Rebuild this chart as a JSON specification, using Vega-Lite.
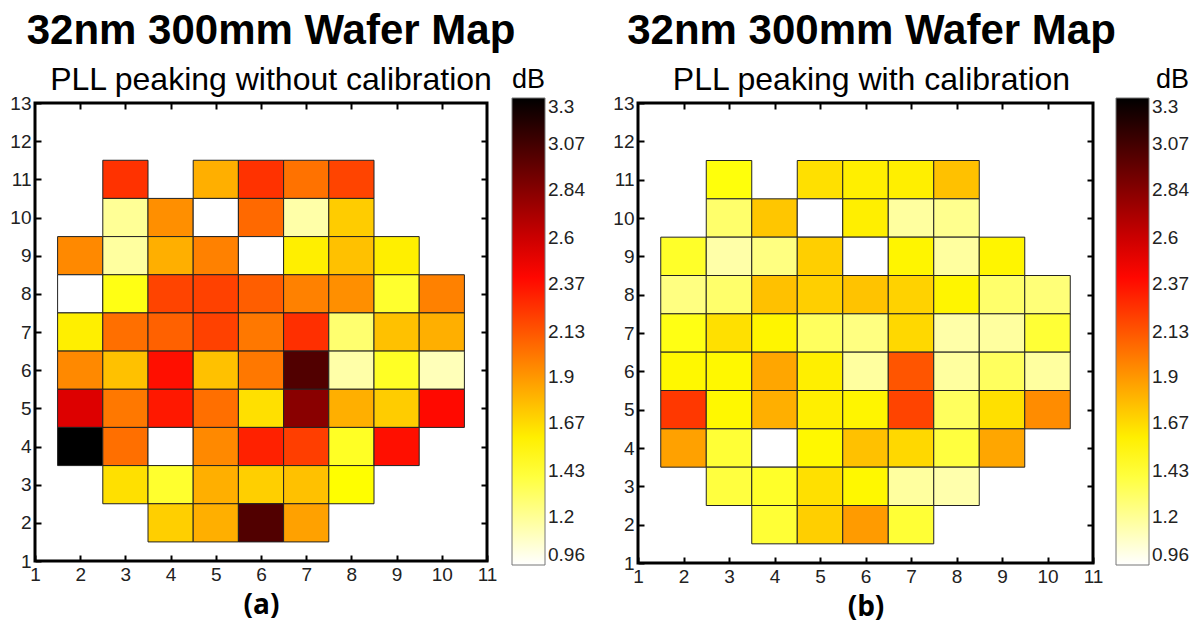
{
  "$schema": "https://vega.github.io/schema/vega-lite/v6.json",
  "padding": {"left": 8, "top": 8, "right": 0, "bottom": 0},
  "background": "white",
  "datasets": {
    "a": [
      {"x":3,"y":11,"v":2.25},{"x":5,"y":11,"v":1.82},{"x":6,"y":11,"v":2.25},{"x":7,"y":11,"v":2.03},{"x":8,"y":11,"v":2.19},
      {"x":3,"y":10,"v":1.2},{"x":4,"y":10,"v":1.93},{"x":5,"y":10,"v":0.96},{"x":6,"y":10,"v":2.06},{"x":7,"y":10,"v":1.16},{"x":8,"y":10,"v":1.72},
      {"x":2,"y":9,"v":1.95},{"x":3,"y":9,"v":1.18},{"x":4,"y":9,"v":1.82},{"x":5,"y":9,"v":1.98},{"x":6,"y":9,"v":0.96},{"x":7,"y":9,"v":1.6},{"x":8,"y":9,"v":1.76},{"x":9,"y":9,"v":1.6},
      {"x":2,"y":8,"v":0.96},{"x":3,"y":8,"v":1.5},{"x":4,"y":8,"v":2.19},{"x":5,"y":8,"v":2.2},{"x":6,"y":8,"v":2.1},{"x":7,"y":8,"v":1.98},{"x":8,"y":8,"v":1.93},{"x":9,"y":8,"v":1.44},{"x":10,"y":8,"v":1.98},
      {"x":2,"y":7,"v":1.6},{"x":3,"y":7,"v":2.04},{"x":4,"y":7,"v":2.09},{"x":5,"y":7,"v":2.2},{"x":6,"y":7,"v":2.01},{"x":7,"y":7,"v":2.26},{"x":8,"y":7,"v":1.29},{"x":9,"y":7,"v":1.76},{"x":10,"y":7,"v":1.82},
      {"x":2,"y":6,"v":1.95},{"x":3,"y":6,"v":1.76},{"x":4,"y":6,"v":2.37},{"x":5,"y":6,"v":1.76},{"x":6,"y":6,"v":2.01},{"x":7,"y":6,"v":3.02},{"x":8,"y":6,"v":1.16},{"x":9,"y":6,"v":1.46},{"x":10,"y":6,"v":1.12},
      {"x":2,"y":5,"v":2.54},{"x":3,"y":5,"v":2.01},{"x":4,"y":5,"v":2.34},{"x":5,"y":5,"v":2.04},{"x":6,"y":5,"v":1.65},{"x":7,"y":5,"v":2.83},{"x":8,"y":5,"v":1.82},{"x":9,"y":5,"v":1.72},{"x":10,"y":5,"v":2.39},
      {"x":2,"y":4,"v":3.3},{"x":3,"y":4,"v":2.04},{"x":4,"y":4,"v":0.96},{"x":5,"y":4,"v":1.95},{"x":6,"y":4,"v":2.31},{"x":7,"y":4,"v":2.21},{"x":8,"y":4,"v":1.46},{"x":9,"y":4,"v":2.37},
      {"x":3,"y":3,"v":1.65},{"x":4,"y":3,"v":1.44},{"x":5,"y":3,"v":1.82},{"x":6,"y":3,"v":1.71},{"x":7,"y":3,"v":1.76},{"x":8,"y":3,"v":1.55},
      {"x":4,"y":2,"v":1.71},{"x":5,"y":2,"v":1.82},{"x":6,"y":2,"v":3.02},{"x":7,"y":2,"v":1.87}
    ],
    "b": [
      {"x":3,"y":11,"v":1.52},{"x":5,"y":11,"v":1.65},{"x":6,"y":11,"v":1.6},{"x":7,"y":11,"v":1.6},{"x":8,"y":11,"v":1.76},
      {"x":3,"y":10,"v":1.3},{"x":4,"y":10,"v":1.74},{"x":5,"y":10,"v":0.96},{"x":6,"y":10,"v":1.6},{"x":7,"y":10,"v":1.18},{"x":8,"y":10,"v":1.22},
      {"x":2,"y":9,"v":1.45},{"x":3,"y":9,"v":1.16},{"x":4,"y":9,"v":1.25},{"x":5,"y":9,"v":1.71},{"x":6,"y":9,"v":0.96},{"x":7,"y":9,"v":1.58},{"x":8,"y":9,"v":1.18},{"x":9,"y":9,"v":1.58},
      {"x":2,"y":8,"v":1.25},{"x":3,"y":8,"v":1.3},{"x":4,"y":8,"v":1.76},{"x":5,"y":8,"v":1.71},{"x":6,"y":8,"v":1.75},{"x":7,"y":8,"v":1.7},{"x":8,"y":8,"v":1.58},{"x":9,"y":8,"v":1.3},{"x":10,"y":8,"v":1.27},
      {"x":2,"y":7,"v":1.5},{"x":3,"y":7,"v":1.65},{"x":4,"y":7,"v":1.58},{"x":5,"y":7,"v":1.33},{"x":6,"y":7,"v":1.25},{"x":7,"y":7,"v":1.68},{"x":8,"y":7,"v":1.16},{"x":9,"y":7,"v":1.18},{"x":10,"y":7,"v":1.42},
      {"x":2,"y":6,"v":1.57},{"x":3,"y":6,"v":1.57},{"x":4,"y":6,"v":1.85},{"x":5,"y":6,"v":1.6},{"x":6,"y":6,"v":1.18},{"x":7,"y":6,"v":2.13},{"x":8,"y":6,"v":1.18},{"x":9,"y":6,"v":1.33},{"x":10,"y":6,"v":1.18},
      {"x":2,"y":5,"v":2.23},{"x":3,"y":5,"v":1.57},{"x":4,"y":5,"v":1.82},{"x":5,"y":5,"v":1.6},{"x":6,"y":5,"v":1.58},{"x":7,"y":5,"v":2.19},{"x":8,"y":5,"v":1.33},{"x":9,"y":5,"v":1.65},{"x":10,"y":5,"v":1.94},
      {"x":2,"y":4,"v":1.87},{"x":3,"y":4,"v":1.42},{"x":4,"y":4,"v":0.96},{"x":5,"y":4,"v":1.57},{"x":6,"y":4,"v":1.76},{"x":7,"y":4,"v":1.68},{"x":8,"y":4,"v":1.4},{"x":9,"y":4,"v":1.85},
      {"x":3,"y":3,"v":1.4},{"x":4,"y":3,"v":1.45},{"x":5,"y":3,"v":1.65},{"x":6,"y":3,"v":1.57},{"x":7,"y":3,"v":1.18},{"x":8,"y":3,"v":1.15},
      {"x":4,"y":2,"v":1.42},{"x":5,"y":2,"v":1.71},{"x":6,"y":2,"v":1.89},{"x":7,"y":2,"v":1.42}
    ]
  },
  "hconcat": [
    {
      "width": 452,
      "height": 458,
      "data": {"name": "a"},
      "title": {"text": "32nm 300mm Wafer Map", "subtitle": "PLL peaking without calibration", "dx": 10},
      "transform": [
        {"calculate": "datum.x - 0.5", "as": "xa"},
        {"calculate": "datum.x + 0.5", "as": "xb"},
        {"calculate": "datum.y - 0.5", "as": "ya"},
        {"calculate": "datum.y + 0.5", "as": "yb"}
      ],
      "layer": [
        {
          "mark": {"type": "rect", "stroke": "#222", "strokeWidth": 1},
          "encoding": {
            "x": {"field": "xa", "type": "quantitative", "scale": {"domain": [1, 11], "nice": false, "zero": false},
                  "axis": {"orient": "bottom", "values": [1,2,3,4,5,6,7,8,9,10,11], "title": "(a)", "titleFont": "Open Sans", "titleFontWeight": "bold", "titleFontSize": 28, "titlePadding": 7}},
            "x2": {"field": "xb"},
            "y": {"field": "ya", "type": "quantitative", "scale": {"domain": [1, 13], "nice": false, "zero": false},
                  "axis": {"orient": "left", "values": [1,2,3,4,5,6,7,8,9,10,11,12,13], "title": null}},
            "y2": {"field": "yb"},
            "color": {"field": "v", "type": "quantitative",
                      "scale": {"domain": [0.96, 1.545, 2.4225, 3.3], "range": ["#ffffff", "#ffff00", "#ff0000", "#000000"], "interpolate": "rgb"},
                      "legend": {"title": "dB", "orient": "none", "legendX": 477, "legendY": -36, "direction": "vertical",
                                 "gradientLength": 467, "gradientThickness": 33, "gradientStrokeColor": "#777", "gradientStrokeWidth": 1,
                                 "values": [0.96,1.2,1.43,1.67,1.9,2.13,2.37,2.6,2.84,3.07,3.3], "labelExpr": "'' + datum.value",
                                 "labelFontSize": 19, "labelColor": "#222", "labelFont": "Liberation Sans", "labelOffset": 3,
                                 "titleFontSize": 27, "titleFontWeight": "normal", "titleColor": "black", "titleFont": "Liberation Sans", "titlePadding": 4, "titleAnchor": "start"}}
          }
        },
        {
          "mark": {"type": "rect", "opacity": 0},
          "encoding": {
            "x": {"field": "xa", "type": "quantitative", "axis": {"orient": "top", "values": [2,3,4,5,6,7,8,9,10], "labels": false, "title": null}},
            "x2": {"field": "xb"},
            "y": {"field": "ya", "type": "quantitative", "axis": {"orient": "right", "values": [2,3,4,5,6,7,8,9,10,11,12], "labels": false, "title": null}},
            "y2": {"field": "yb"}
          }
        }
      ],
      "resolve": {"axis": {"x": "independent", "y": "independent"}}
    },
    {
      "width": 455,
      "height": 460,
      "data": {"name": "b"},
      "title": {"text": "32nm 300mm Wafer Map", "subtitle": "PLL peaking with calibration", "dx": 6},
      "transform": [
        {"calculate": "datum.x - 0.5", "as": "xa"},
        {"calculate": "datum.x + 0.5", "as": "xb"},
        {"calculate": "datum.y - 0.5", "as": "ya"},
        {"calculate": "datum.y + 0.5", "as": "yb"}
      ],
      "layer": [
        {
          "mark": {"type": "rect", "stroke": "#222", "strokeWidth": 1},
          "encoding": {
            "x": {"field": "xa", "type": "quantitative", "scale": {"domain": [1, 11], "nice": false, "zero": false},
                  "axis": {"orient": "bottom", "values": [1,2,3,4,5,6,7,8,9,10,11], "title": "(b)", "titleFont": "Open Sans", "titleFontWeight": "bold", "titleFontSize": 28, "titlePadding": 7}},
            "x2": {"field": "xb"},
            "y": {"field": "ya", "type": "quantitative", "scale": {"domain": [1, 13], "nice": false, "zero": false},
                  "axis": {"orient": "left", "values": [1,2,3,4,5,6,7,8,9,10,11,12,13], "title": null}},
            "y2": {"field": "yb"},
            "color": {"field": "v", "type": "quantitative",
                      "scale": {"domain": [0.96, 1.545, 2.4225, 3.3], "range": ["#ffffff", "#ffff00", "#ff0000", "#000000"], "interpolate": "rgb"},
                      "legend": {"title": "dB", "orient": "none", "legendX": 478, "legendY": -36, "direction": "vertical",
                                 "gradientLength": 467, "gradientThickness": 33, "gradientStrokeColor": "#777", "gradientStrokeWidth": 1,
                                 "values": [0.96,1.2,1.43,1.67,1.9,2.13,2.37,2.6,2.84,3.07,3.3], "labelExpr": "'' + datum.value",
                                 "labelFontSize": 19, "labelColor": "#222", "labelFont": "Liberation Sans", "labelOffset": 3,
                                 "titleFontSize": 27, "titleFontWeight": "normal", "titleColor": "black", "titleFont": "Liberation Sans", "titlePadding": 4, "titleAnchor": "end"}}
          }
        },
        {
          "mark": {"type": "rect", "opacity": 0},
          "encoding": {
            "x": {"field": "xa", "type": "quantitative", "axis": {"orient": "top", "values": [2,3,4,5,6,7,8,9,10], "labels": false, "title": null}},
            "x2": {"field": "xb"},
            "y": {"field": "ya", "type": "quantitative", "axis": {"orient": "right", "values": [2,3,4,5,6,7,8,9,10,11,12], "labels": false, "title": null}},
            "y2": {"field": "yb"}
          }
        }
      ],
      "resolve": {"axis": {"x": "independent", "y": "independent"}}
    }
  ],
  "spacing": 24,
  "resolve": {"scale": {"color": "independent"}, "legend": {"color": "independent"}},
  "config": {
    "font": "Liberation Sans",
    "view": {"stroke": "black", "strokeWidth": 3},
    "axis": {"grid": false, "domain": false, "tickColor": "black", "tickWidth": 2, "tickSize": -6,
             "labelFontSize": 19, "labelColor": "#222", "labelFont": "Liberation Sans", "labelPadding": 10,
             "labelFlush": false, "labelOverlap": false, "titleColor": "black"},
    "title": {"fontSize": 42, "fontWeight": "bold", "color": "black", "font": "Liberation Sans",
              "subtitleFontSize": 32, "subtitleColor": "black", "subtitleFont": "Liberation Sans",
              "anchor": "middle", "frame": "group", "subtitlePadding": 12, "offset": -30}
  }
}
